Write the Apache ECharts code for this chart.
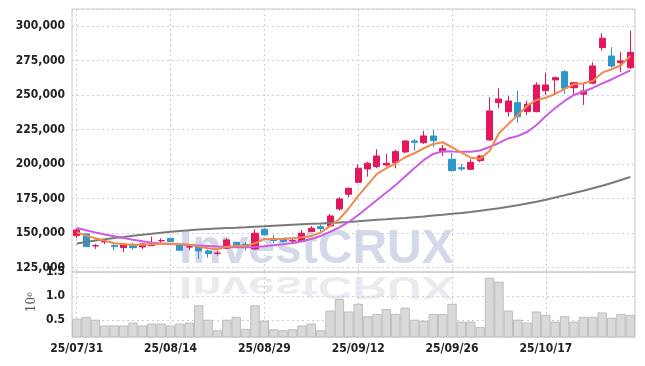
<!DOCTYPE html>
<html><head><meta charset="utf-8">
<script src="https://cdn.jsdelivr.net/npm/echarts@6/dist/echarts.min.js"></script>
<style>html,body{margin:0;padding:0;background:#fff}#c{width:645px;height:366px}</style>
</head><body><div id="c"></div>
<script>
const dates = ['25/07/31','25/08/01','25/08/04','25/08/05','25/08/06','25/08/07','25/08/08','25/08/11','25/08/12','25/08/13','25/08/14','25/08/18','25/08/19','25/08/20','25/08/21','25/08/22','25/08/25','25/08/26','25/08/27','25/08/28','25/08/29','25/09/01','25/09/02','25/09/03','25/09/04','25/09/05','25/09/08','25/09/09','25/09/10','25/09/11','25/09/12','25/09/15','25/09/16','25/09/17','25/09/18','25/09/19','25/09/22','25/09/23','25/09/24','25/09/25','25/09/26','25/09/29','25/09/30','25/10/01','25/10/02','25/10/10','25/10/13','25/10/14','25/10/15','25/10/16','25/10/17','25/10/20','25/10/21','25/10/22','25/10/23','25/10/24','25/10/27','25/10/28','25/10/29','25/10/30'];
const opens = [148050,149280,140600,143500,140800,139350,140800,139860,140800,144300,146170,141300,139800,140800,136970,135200,138920,143270,141820,138420,152690,145660,145150,144300,143700,150950,154570,155080,167400,178050,186740,196380,198050,199280,200950,208700,216670,215440,220290,208920,203410,197330,196160,202400,217400,244420,237900,244420,237900,237900,253120,260870,266890,255290,250510,258480,284280,278260,273410,269780];
const closes = [152180,140080,140700,143800,140100,142040,139350,142040,142040,144500,143700,137480,139950,136970,135010,135400,144940,140590,139355,149790,148560,144430,143700,144500,149790,153400,153130,162330,174640,182400,196890,200510,205800,200510,208920,216670,215730,220290,216890,211090,195150,196380,201240,205800,238410,247100,245650,234280,243260,257250,257250,262540,254860,258910,252900,271020,291090,271020,274640,280940];
const lows = [146170,139860,138420,141800,137480,136030,137900,138200,140500,142240,143500,137000,137480,131170,132100,133600,138400,140230,137190,137700,148200,142540,143300,142540,143270,150700,150950,154140,166160,175870,186020,190800,196890,198050,196890,207760,209640,214500,212110,205800,194420,194930,195660,201240,216890,240360,234280,229930,235510,237470,250000,250000,250730,250000,242760,257760,282100,269780,266450,268630];
const highs = [153400,150000,142040,145660,142980,142400,142980,142760,147330,146170,146400,141700,141820,141000,138200,137000,146170,143500,143490,152690,153640,148560,145500,146170,152180,155080,156310,163780,175870,182830,199790,201670,210660,207250,210150,217030,218120,223920,224640,213770,207760,200000,203410,206530,248340,254860,249280,253120,245870,259200,266160,263260,268120,259420,258480,273700,294710,284570,281380,296590];
const ma5 = [150510,148050,146170,144430,142540,141820,141530,141530,141820,142250,142250,142040,141530,140080,138920,138200,140080,140590,140590,142500,145660,145660,145880,146170,146890,147830,150230,155080,160150,167900,176820,184790,192760,196890,200510,204860,207760,211380,214500,215730,212110,208190,204570,203850,209430,222250,228990,235510,242030,246380,248050,250730,254350,257760,258480,260150,266160,268630,271520,278260];
const ma10 = [153630,151970,150370,148920,147610,146390,145150,144000,142980,142400,142040,141680,141310,140950,140590,140230,139860,139640,139640,139860,140370,141100,141820,142760,144000,145660,147830,150730,153990,157980,163050,168480,173920,179350,184790,190950,197110,202900,207250,209210,209060,208920,208920,209790,212320,215220,218480,220290,223190,228260,234780,240580,245650,250000,252540,255070,258330,261230,264490,267760];
const ma60 = [142400,143490,144570,145440,146390,147110,147980,148710,149430,150230,150880,151460,152040,152540,152910,153270,153630,153850,154140,154500,154860,155230,155590,155950,156310,156600,156890,157250,157540,157980,158490,159060,159570,159930,160440,160880,161460,161960,162690,163190,163920,164500,165220,166090,167030,167900,168990,170150,171380,172610,174060,175730,177320,178990,180580,182400,184210,186240,188410,190590];
const volumesM = [0.53,0.57,0.51,0.39,0.39,0.39,0.45,0.39,0.43,0.43,0.39,0.43,0.45,0.81,0.51,0.29,0.51,0.57,0.32,0.81,0.49,0.31,0.29,0.31,0.39,0.43,0.29,0.70,0.94,0.68,0.84,0.58,0.63,0.73,0.63,0.76,0.51,0.49,0.63,0.63,0.84,0.47,0.47,0.36,1.38,1.30,0.70,0.51,0.45,0.68,0.61,0.47,0.58,0.47,0.57,0.57,0.66,0.55,0.63,0.61];
const volumeUnit = '{a|10}{b|6}';

const FONT = '"DejaVu Sans Condensed", "DejaVu Sans", sans-serif';
const GRIDC = '#c9cddf';
const lbl = {fontFamily: FONT, fontSize: 12, fontWeight: 'bold', color: '#222'};
const split = {show: true, lineStyle: {color: GRIDC, type: [2, 3], width: 1}};
const vsplit = {show: true, interval: 9, alignWithLabel: true, lineStyle: {color: GRIDC, type: [2, 3], width: 1}};

const chart = echarts.init(document.getElementById('c'));
chart.setOption({
  animation: false,
  backgroundColor: '#fff',
  graphic: [
    {type: 'text', x: 179, y: 226, z: -10, silent: true,
     style: {text: 'InvestCRUX', font: 'bold 48px "Liberation Sans", Arial, sans-serif', fill: '#d3d9e8'}},
    {type: 'text', x: 179, y: 270, scaleY: -0.65, z: -10, silent: true,
     style: {text: 'InvestCRUX', font: 'bold 48px "Liberation Sans", Arial, sans-serif', fill: '#e9ebf1', verticalAlign: 'bottom'}},
    {type: 'text', x: 32, y: 302, rotation: Math.PI / 2, silent: true,
     style: {text: volumeUnit, align: 'center', verticalAlign: 'middle',
       rich: {a: {fontFamily: 'DejaVu Serif', fontSize: 12, fill: '#555'},
              b: {fontFamily: 'DejaVu Serif', fontSize: 8, fill: '#555', verticalAlign: 'top'}}}}
  ],
  grid: [
    {left: 72, right: 10, top: 9, height: 263, show: true, borderColor: '#c8c8c8', borderWidth: 1, backgroundColor: 'transparent'},
    {left: 72, right: 10, top: 272, height: 65, show: true, borderColor: '#c8c8c8', borderWidth: 1, backgroundColor: 'transparent'},
    {left: 72, right: 10, top: 272, height: 48.2, show: false}
  ],
  xAxis: [
    {type: 'category', gridIndex: 0, data: dates, axisLine: {show: false}, axisTick: {show: false},
     axisLabel: {show: false}, splitLine: vsplit},
    {type: 'category', gridIndex: 1, data: dates, axisLine: {show: false}, axisTick: {show: false},
     axisLabel: Object.assign({interval: 9, margin: 6}, lbl), splitLine: vsplit},
    {type: 'value', gridIndex: 2, min: 0, max: 1, show: false,
     axisLine: {show: false}, axisTick: {show: false}, axisLabel: {show: false}, splitLine: {show: false}}
  ],
  yAxis: [
    {type: 'value', gridIndex: 0, min: 121700, max: 312300, minInterval: 25000, maxInterval: 25000, splitNumber: 8,
     axisLine: {show: false}, axisTick: {show: false},
     axisLabel: Object.assign({showMinLabel: false, showMaxLabel: false, margin: 7, hideOverlap: false,
       formatter: v => Math.round(v).toLocaleString('en-US')}, lbl),
     splitLine: split},
    {type: 'value', gridIndex: 1, min: 0.15, max: 1.5,
     axisLine: {show: false}, axisTick: {show: false}, axisLabel: {show: false}, splitLine: {show: false}},
    {type: 'value', gridIndex: 2, min: 0.5, max: 1.5, interval: 0.5,
     axisLine: {show: false}, axisTick: {show: false},
     axisLabel: Object.assign({showMinLabel: true, showMaxLabel: true, margin: 7, hideOverlap: false,
       formatter: v => v.toFixed(1)}, lbl),
     splitLine: split}
  ],
  series: [
    {name: 'MA60', type: 'line', xAxisIndex: 0, yAxisIndex: 0, data: ma60, symbol: 'none',
     lineStyle: {color: '#7a7a7a', width: 2}},
    {name: 'MA10', type: 'line', xAxisIndex: 0, yAxisIndex: 0, data: ma10, symbol: 'none',
     lineStyle: {color: '#cc5ce6', width: 2}},
    {name: 'MA5', type: 'line', xAxisIndex: 0, yAxisIndex: 0, data: ma5, symbol: 'none',
     lineStyle: {color: '#f08a4c', width: 2}},
    {name: 'price', type: 'candlestick', xAxisIndex: 0, yAxisIndex: 0, barWidth: '70%',
     data: dates.map((d, i) => [opens[i], closes[i], lows[i], highs[i]]),
     itemStyle: {color: '#e2175c', color0: '#2f97ca', borderColor: '#e2175c', borderColor0: '#2f97ca', borderWidth: 1}},
    {name: 'volume', type: 'bar', xAxisIndex: 1, yAxisIndex: 1, data: volumesM, barCategoryGap: '0%',
     itemStyle: {color: '#d9d9d9', borderColor: '#bdbdbd', borderWidth: 1}}
  ]
});
</script></body></html>
